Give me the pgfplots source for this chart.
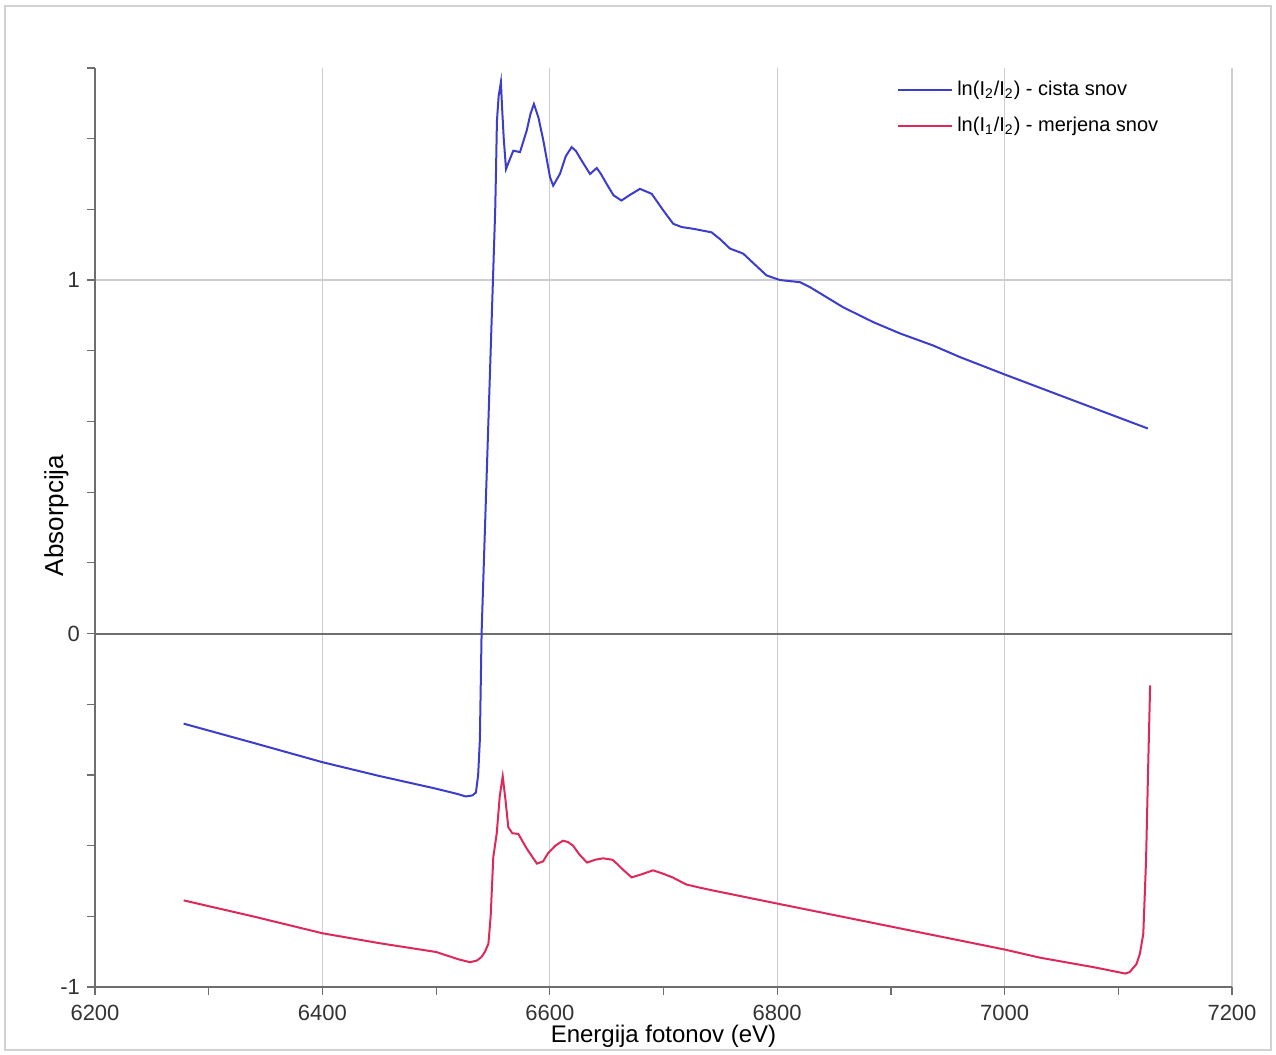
\documentclass[border=0pt]{standalone}
\usepackage{pgfplots}
\pgfplotsset{compat=1.18}
\usepackage{fontspec}
\setmainfont{Liberation Sans}
\definecolor{bluecurve}{RGB}{60,60,205}
\definecolor{redcurve}{RGB}{222,40,90}
\definecolor{gridgray}{RGB}{205,205,205}
\definecolor{axgray}{RGB}{110,110,110}

\begin{document}
\begin{tikzpicture}
\begin{axis}[
  name=ax,
  scale only axis,
  width=568.5pt, height=459.5pt,
  xmin=6200, xmax=7200, ymin=-1, ymax=1.6,
  axis x line*=bottom, axis y line*=left,
  axis line style={axgray, line width=0.8pt},
  xtick={6200,6400,...,7200},
  minor xtick={6300,6500,6700,6900,7100},
  ytick={-1,0,1},
  minor ytick={-0.8,-0.6,-0.4,-0.2,0.2,0.4,0.6,0.8,1.2,1.4,1.6},
  xmajorgrids, ymajorgrids,
  major grid style={gridgray, line width=0.6pt},
  tick align=outside,
  major tick length=4pt, minor tick length=4pt,
  tick style={axgray, line width=0.6pt},
  /pgf/number format/assume math mode=true,
  /pgf/number format/1000 sep={},
  ticklabel style={font=\fontsize{11}{13}\selectfont, text=black!80},
  xticklabel style={yshift=-1.5pt},
  xlabel={Energija fotonov (eV)},
  ylabel={Absorpcija},
  xlabel style={font=\fontsize{12}{14}\selectfont, yshift=4.5pt},
  ylabel style={font=\fontsize{13}{15}\selectfont, yshift=-11pt, xshift=6pt},
  legend style={draw=none, fill=none, at={(0.7,0.995)}, anchor=north west,
    font=\fontsize{10}{12}\selectfont, row sep=5.5pt, cells={anchor=west}},
  legend image code/.code={\draw[#1, line width=1pt] (0pt,0pt) -- (27pt,0pt);},
  clip=false,
]
\addplot[axgray, line width=1pt, forget plot] coordinates {(6200,0) (7200,0)};

\addplot[bluecurve, line width=1pt] coordinates {
(6278,-0.255) (6340,-0.31) (6400,-0.364) (6450,-0.403) (6500,-0.439) (6520,-0.455)
(6526,-0.461) (6532,-0.458) (6535,-0.45) (6537,-0.40) (6538.5,-0.30) (6540,0.0)
(6545,0.5) (6550,1.0) (6552,1.2) (6552.7,1.31) (6553.5,1.45) (6555,1.52)
(6557,1.56) (6558,1.49) (6559.5,1.40) (6561.5,1.314) (6564,1.335) (6567.9,1.366)
(6573.8,1.362) (6579.7,1.423) (6583,1.47) (6586,1.498) (6590,1.46) (6594.3,1.395)
(6600.2,1.291) (6603,1.267) (6609,1.301) (6614,1.35) (6619.2,1.376) (6623,1.365)
(6628,1.338) (6635.4,1.30) (6641.3,1.317) (6645,1.30) (6650,1.272) (6656,1.24)
(6663,1.225) (6670,1.24) (6679.3,1.258) (6689.6,1.244) (6699.8,1.197) (6708.6,1.159)
(6716,1.15) (6726.2,1.145) (6742.3,1.135) (6750,1.115) (6758.5,1.089) (6770,1.075)
(6780,1.045) (6790.7,1.013) (6802.5,1.0) (6820,0.994) (6828.8,0.98) (6858,0.923)
(6884.5,0.881) (6908,0.849) (6937,0.815) (6960.8,0.782) (7000,0.733) (7060,0.66)
(7126,0.58)
};
\addlegendentry{ln(I\textsubscript{2}/I\textsubscript{2}) - cista snov}

\addplot[redcurve, line width=1pt] coordinates {
(6278,-0.755) (6340,-0.801) (6400,-0.848) (6450,-0.876) (6500,-0.901) (6520,-0.922)
(6530,-0.93) (6536,-0.925) (6540,-0.915) (6543,-0.90) (6546,-0.878) (6548,-0.80)
(6550.3,-0.633) (6553.3,-0.566) (6556,-0.46) (6558.6,-0.404) (6561,-0.47) (6563.5,-0.548)
(6567,-0.565) (6572.3,-0.567) (6580,-0.61) (6588.7,-0.651) (6594,-0.645) (6598.4,-0.622)
(6605,-0.60) (6611.6,-0.586) (6616,-0.59) (6620.4,-0.60) (6626,-0.625) (6632.7,-0.648)
(6640,-0.64) (6646.8,-0.636) (6655,-0.64) (6659,-0.651) (6665,-0.67) (6672,-0.69)
(6680,-0.682) (6690.8,-0.67) (6700,-0.68) (6708,-0.69) (6720,-0.71) (6732,-0.719)
(6743.5,-0.727) (6800,-0.764) (6900,-0.829) (7000,-0.894) (7031,-0.917) (7080,-0.945)
(7106,-0.962) (7110,-0.958) (7116,-0.935) (7119,-0.906) (7122,-0.849) (7124.4,-0.642)
(7126.4,-0.359) (7128,-0.147)
};
\addlegendentry{ln(I\textsubscript{1}/I\textsubscript{2}) - merjena snov}
\end{axis}
\useasboundingbox ([xshift=-47.5pt,yshift=-33.5pt]ax.south west) rectangle ([xshift=22pt,yshift=34pt]ax.north east);
\draw[gray!35, line width=0.8pt] ([xshift=-45pt,yshift=-31.5pt]ax.south west) rectangle ([xshift=19.5pt,yshift=31pt]ax.north east);
\end{tikzpicture}
\end{document}
